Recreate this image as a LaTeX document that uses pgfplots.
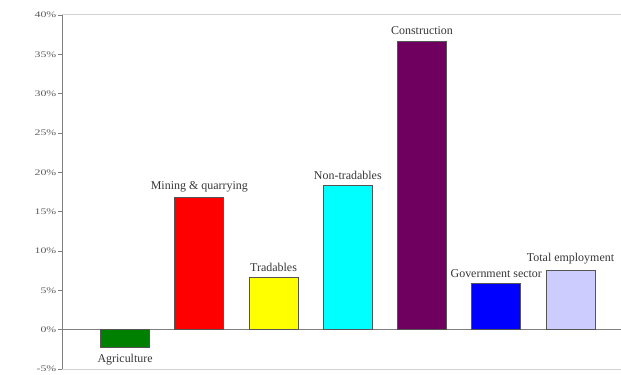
\documentclass[border=0pt]{standalone}
\usepackage{fontspec}
\setmainfont{Liberation Serif}
\usepackage{pgfplots}
\pgfplotsset{compat=1.18}
\definecolor{cgreen}{RGB}{0,128,0}
\definecolor{cred}{RGB}{255,0,0}
\definecolor{cyellow}{RGB}{255,255,0}
\definecolor{ccyan}{RGB}{0,255,255}
\definecolor{cpurple}{RGB}{112,0,96}
\definecolor{cblue}{RGB}{0,0,255}
\definecolor{clav}{RGB}{204,204,255}
\definecolor{edge}{RGB}{85,85,85}
\definecolor{labtxt}{RGB}{55,55,55}
\definecolor{ticktxt}{RGB}{90,90,90}
\begin{document}
\begin{tikzpicture}
\begin{axis}[
  at={(0,0)}, anchor=south west,
  scale only axis, width=559bp, height=354bp,
  xmin=-0.85, xmax=6.68, ymin=-5, ymax=40,
  axis x line=none, axis y line*=left,
  y axis line style={draw=gray, line width=0.8pt},
  ytick={-5,0,5,10,15,20,25,30,35,40},
  xtick=\empty,
  tick align=outside, major tick length=4bp,
  ytick style={draw=gray, line width=0.8pt},
  yticklabel={\pgfmathprintnumber{\tick}\%},
  /pgf/number format/assume math mode=true,
  yticklabel style={font=\fontsize{8.5}{9}\selectfont, text=ticktxt, xscale=1.4, inner sep=1pt},
  ybar, bar width=49bp, bar shift=0pt,
  every axis plot/.append style={draw=edge, line width=0.7pt},
  nodes near coords align={vertical},
  every node near coord/.append style={font=\fontsize{12}{14}\selectfont, text=labtxt, inner sep=1.5pt},
  clip=false,
]
\draw[gray!35, line width=1pt] (rel axis cs:0,1) -- (rel axis cs:1,1);
\draw[gray!35, line width=1pt] (rel axis cs:0,0) -- (rel axis cs:1,0);
\draw[gray, line width=0.8pt] (axis cs:-0.85,0) -- (axis cs:6.68,0);
\addplot[fill=cgreen, nodes near coords={Agriculture}, every node near coord/.append style={yshift=-5bp}] coordinates {(0,-2.2)};
\addplot[fill=cred, nodes near coords={Mining \& quarrying}, every node near coord/.append style={yshift=4bp}] coordinates {(1,16.8)};
\addplot[fill=cyellow, nodes near coords={Tradables}, every node near coord/.append style={yshift=4bp}] coordinates {(2,6.6)};
\addplot[fill=ccyan, nodes near coords={Non-tradables}, every node near coord/.append style={yshift=4bp}] coordinates {(3,18.3)};
\addplot[fill=cpurple, nodes near coords={Construction}, every node near coord/.append style={yshift=4bp}] coordinates {(4,36.7)};
\addplot[fill=cblue, nodes near coords={Government sector}, every node near coord/.append style={yshift=4bp}] coordinates {(5,5.9)};
\addplot[fill=clav, nodes near coords={Total employment}, every node near coord/.append style={yshift=4bp}] coordinates {(6,7.6)};
\end{axis}
\pgfresetboundingbox
\path[use as bounding box] (-62bp,-6bp) rectangle (559bp,369bp);
\end{tikzpicture}
\end{document}
